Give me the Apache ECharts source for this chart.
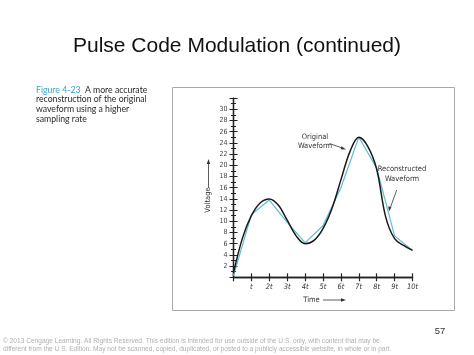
<!DOCTYPE html>
<html><head><meta charset="utf-8">
<script src="https://cdn.jsdelivr.net/npm/echarts@6/dist/echarts.min.js"></script>
<style>html,body{margin:0;padding:0;background:#fff}#c{width:474px;height:355px}</style>
</head><body><div id="c"></div>
<script>
// Data
const origTimes = [0,0.5,1,1.5,2,2.5,3,3.5,4,4.5,5,5.5,6,6.5,7,7.5,8,8.5,9,9.5,10];
const origValues = [0.8,7.0,11.0,13.3,14.0,12.9,10.2,7.4,6.0,6.6,8.7,12.3,17.4,22.4,25.0,23.4,19.3,10.8,6.9,5.7,4.8];
const sampleTimes = [0,1,2,3,4,5,6,7,8,9,10];
const reconValues = [0.3,11.2,13.8,9.8,6.2,9.2,16.0,25.0,19.5,7.4,4.8];
const xTickLabels = ['', 't','2t','3t','4t','5t','6t','7t','8t','9t','10t'];
const yTickLabels = ['', '2','4','6','8','10','12','14','16','18','20','22','24','26','28','30',''];

const chart = echarts.init(document.getElementById('c'), null, {renderer:'canvas'});
const axisColor = '#222';
const capFont = 'Lato, "Open Sans", sans-serif';
const annFont = '"Liberation Sans Narrow", "DejaVu Sans Condensed", sans-serif';

const yBase = {
  type:'value', min:0, max:32, interval:2, position:'left',
  axisLine:{show:true, lineStyle:{color:axisColor, width:1.3}},
  splitLine:{show:false},
  minorTick:{show:true, splitNumber:2, length:2.5, lineStyle:{color:axisColor, width:1}},
  minorSplitLine:{show:false}
};
const xBase = {
  type:'value', min:0, max:10, interval:1, position:'bottom',
  axisLine:{show:true, onZero:false, lineStyle:{color:axisColor, width:1.3}},
  splitLine:{show:false}
};

chart.setOption({
  animation:false,
  backgroundColor:'#fff',
  title:{
    text:'Pulse Code Modulation (continued)', left:'center', top:31,
    textStyle:{fontFamily:'"Liberation Sans", Arial, sans-serif', fontSize:21, fontWeight:'normal', color:'#111'}
  },
  grid:{left:233.5, top:98.1, width:179, height:179.2, containLabel:false},
  xAxis:[
    Object.assign({}, xBase, {
      axisTick:{show:true, length:4, lineStyle:{color:axisColor, width:1.2}},
      axisLabel:{show:true, margin:6, fontSize:7.5, fontFamily:annFont, color:'#333', fontStyle:'italic',
        formatter:(v)=>xTickLabels[Math.round(v)] || ''}
    }),
    Object.assign({}, xBase, {
      axisTick:{show:true, inside:true, length:4, lineStyle:{color:axisColor, width:1.2}},
      axisLabel:{show:false}
    })
  ],
  yAxis:[
    Object.assign({}, yBase, {
      axisTick:{show:true, length:4, lineStyle:{color:axisColor, width:1}},
      axisLabel:{show:true, margin:6, fontSize:7, fontFamily:annFont, color:'#444',
        formatter:(v)=>yTickLabels[Math.round(v/2)] || ''}
    }),
    Object.assign({}, yBase, {
      axisTick:{show:true, inside:true, length:4, lineStyle:{color:axisColor, width:1}},
      minorTick:{show:true, splitNumber:2, length:2.5, lineStyle:{color:axisColor, width:1}},
      axisLabel:{show:false}
    })
  ],
  series:[
    {
      name:'Reconstructed Waveform', type:'line', xAxisIndex:0, yAxisIndex:0,
      data: sampleTimes.map((t,i)=>[t, reconValues[i]]),
      showSymbol:false, smooth:false,
      lineStyle:{color:'#5fbcd3', width:1.2}
    },
    {
      name:'Original Waveform', type:'line', xAxisIndex:0, yAxisIndex:0,
      data: origTimes.map((t,i)=>[t, origValues[i]]),
      showSymbol:false, smooth:0.35,
      lineStyle:{color:'#1a1a1a', width:1.5}
    }
  ],
  graphic:[
    {type:'rect', shape:{x:172.5, y:87.5, width:282, height:223}, style:{fill:'none', stroke:'#aaa', lineWidth:1}, silent:true},
    {type:'text', left:36, top:85.5, style:{
      text:'{fig|Figure 4-23}{b|  A more accurate}\n{b|reconstruction of the original}\n{b|waveform using a higher}\n{b|sampling rate}',
      rich:{
        fig:{fill:'#3aa3c6', fontSize:8.7, fontFamily:capFont, lineHeight:9.6},
        b:{fill:'#2a2a2a', fontSize:8.7, fontFamily:capFont, lineHeight:9.6}
      }
    }},
    // Voltage label with arrow
    {type:'text', x:208.5, y:200, rotation:Math.PI/2, style:{text:'Voltage', fill:'#333', fontSize:7.5, fontFamily:annFont, align:'center', verticalAlign:'middle'}},
    {type:'line', shape:{x1:208.5, y1:188, x2:208.5, y2:162}, style:{stroke:'#333', lineWidth:0.8}},
    {type:'polygon', shape:{points:[[208.5,159],[206.8,164],[210.2,164]]}, style:{fill:'#333'}},
    // Time label with arrow
    {type:'text', x:311.5, y:300, style:{text:'Time', fill:'#333', fontSize:7.5, fontFamily:annFont, align:'center', verticalAlign:'middle'}},
    {type:'line', shape:{x1:323, y1:300, x2:343, y2:300}, style:{stroke:'#333', lineWidth:0.8}},
    {type:'polygon', shape:{points:[[346,300],[341,298.3],[341,301.7]]}, style:{fill:'#333'}},
    // Original waveform annotation
    {type:'text', x:315, y:141.5, style:{text:'Original\nWaveform', fill:'#333', fontSize:7.5, lineHeight:9, fontFamily:annFont, align:'center', verticalAlign:'middle'}},
    {type:'line', shape:{x1:329.5, y1:143.5, x2:343, y2:148.3}, style:{stroke:'#333', lineWidth:0.8}},
    {type:'polygon', shape:{points:[[346,149.5],[341.6,146.3],[340.6,149.2]]}, style:{fill:'#333'}},
    // Reconstructed waveform annotation
    {type:'text', x:402, y:174, style:{text:'Reconstructed\nWaveform', fill:'#333', fontSize:7.5, lineHeight:9.4, fontFamily:annFont, align:'center', verticalAlign:'middle'}},
    {type:'line', shape:{x1:396.7, y1:190, x2:390, y2:208.5}, style:{stroke:'#333', lineWidth:0.8}},
    {type:'polygon', shape:{points:[[389,211.5],[388.3,206.2],[391.4,207.3]]}, style:{fill:'#333'}},
    // page number & footer
    {type:'text', x:440, y:331, style:{text:'57', fill:'#333', fontSize:9.5, fontFamily:'"Liberation Sans", Arial, sans-serif', align:'center', verticalAlign:'middle'}},
    {type:'text', left:3, top:337, style:{
      text:'© 2013 Cengage Learning. All Rights Reserved. This edition is intended for use outside of the U.S. only, with content that may be\ndifferent from the U.S. Edition. May not be scanned, copied, duplicated, or posted to a publicly accessible website, in whole or in part.',
      fill:'#b0b0b0', fontSize:6.6, lineHeight:8.2, fontFamily:'"Liberation Sans", Arial, sans-serif'
    }}
  ]
});
</script></body></html>
